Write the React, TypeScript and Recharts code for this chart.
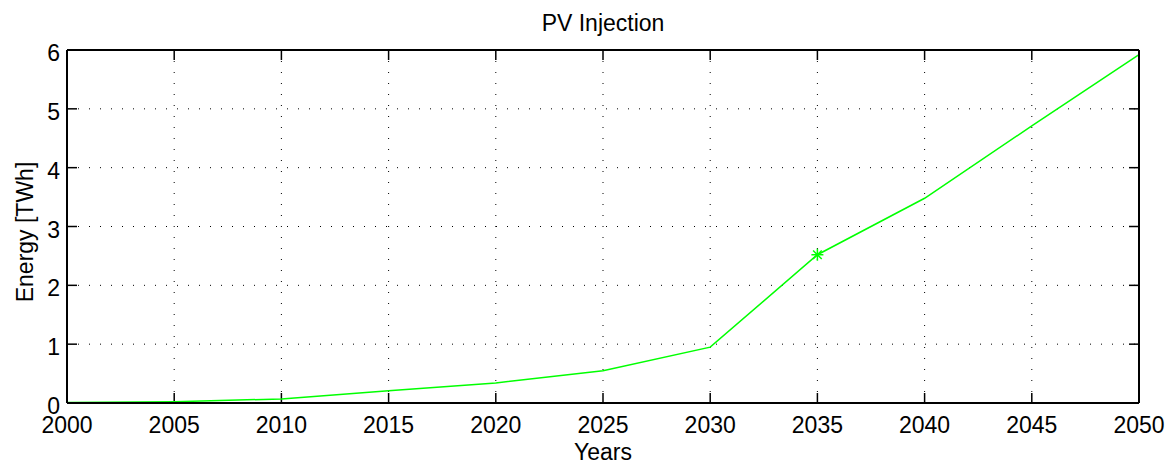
import { LineChart, Line, XAxis, YAxis, CartesianGrid, ReferenceLine } from "recharts";

const years = [2000, 2005, 2010, 2015, 2020, 2025, 2030, 2035, 2040, 2045, 2050];
const energy = [0.01, 0.02, 0.07, 0.21, 0.34, 0.55, 0.95, 2.52, 3.48, 4.71, 5.92];
const markerYears = [2035];
const xTicks = [2000, 2005, 2010, 2015, 2020, 2025, 2030, 2035, 2040, 2045, 2050];
const yTicks = [0, 1, 2, 3, 4, 5, 6];

const title = "PV Injection";
const xLabel = "Years";
const yLabel = "Energy [TWh]";

const data = years.map((year, i) => ({ year, energy: energy[i] }));

const W = 1176;
const H = 469;
const FONT = "'Liberation Sans', Arial, Helvetica, sans-serif";
const MARGIN = { top: 49, right: 36, bottom: 0, left: 0 };
const X_AXIS_H = 66;
const Y_AXIS_W = 67;
const TICK = 10;

const xMin = xTicks[0];
const xMax = xTicks[xTicks.length - 1];
const yMin = yTicks[0];
const yMax = yTicks[yTicks.length - 1];
const plotW = W - MARGIN.left - MARGIN.right - Y_AXIS_W - 1;
const plotH = H - MARGIN.top - MARGIN.bottom - X_AXIS_H - 1;
// inward tick length, in data units
const tickDX = (TICK * (xMax - xMin)) / plotW;
const tickDY = (TICK * (yMax - yMin)) / plotH;

const BottomTick = (props: any) => {
  const { x, y, payload } = props;
  return (
    <text x={x} y={Number(y) + 30} textAnchor="middle" fontSize={23} fontFamily={FONT} fill="#000" stroke="none">
      {payload.value}
    </text>
  );
};

const LeftTick = (props: any) => {
  const { x, y, payload } = props;
  return (
    <text x={Number(x) - 7} y={Number(y) + 11} textAnchor="end" fontSize={23} fontFamily={FONT} fill="#000" stroke="none">
      {payload.value}
    </text>
  );
};

const StarDot = ({ cx, cy, payload }: any) => {
  if (!markerYears.includes(payload.year)) return <g />;
  const r = 6;
  const d = r * 0.72;
  return (
    <g stroke="#00ff00" strokeWidth={1.5}>
      <line x1={cx - r} x2={cx + r} y1={cy} y2={cy} />
      <line x1={cx} x2={cx} y1={cy - r} y2={cy + r} />
      <line x1={cx - d} x2={cx + d} y1={cy - d} y2={cy + d} />
      <line x1={cx - d} x2={cx + d} y1={cy + d} y2={cy - d} />
    </g>
  );
};

const axisLine = { stroke: "#000", strokeWidth: 2 };
const TC = "#000";

export default function App() {
  return (
    <div style={{ position: "absolute", left: 0, top: 0, width: W, height: H, background: "#fff" }}>
      <LineChart width={W} height={H} data={data} margin={MARGIN}>
        <CartesianGrid stroke="#000" strokeDasharray="1 10" />
        {xTicks.slice(1, -1).map((t) => (
          <ReferenceLine
            key={`xb${t}`}
            segment={[{ x: t, y: yMin }, { x: t, y: yMin + tickDY }]}
            stroke={TC}
            strokeWidth={1.5}
            ifOverflow="visible"
          />
        ))}
        {xTicks.slice(1, -1).map((t) => (
          <ReferenceLine
            key={`xt${t}`}
            segment={[{ x: t, y: yMax - tickDY }, { x: t, y: yMax }]}
            stroke={TC}
            strokeWidth={1.5}
            ifOverflow="visible"
          />
        ))}
        {yTicks.slice(1, -1).map((t) => (
          <ReferenceLine
            key={`yl${t}`}
            segment={[{ x: xMin, y: t }, { x: xMin + tickDX, y: t }]}
            stroke={TC}
            strokeWidth={1.5}
            ifOverflow="visible"
          />
        ))}
        {yTicks.slice(1, -1).map((t) => (
          <ReferenceLine
            key={`yr${t}`}
            segment={[{ x: xMax - tickDX, y: t }, { x: xMax, y: t }]}
            stroke={TC}
            strokeWidth={1.5}
            ifOverflow="visible"
          />
        ))}
        <Line
          type="linear"
          dataKey="energy"
          stroke="#00ff00"
          strokeWidth={1.5}
          dot={<StarDot />}
          activeDot={false}
          isAnimationActive={false}
        />
        <XAxis
          dataKey="year"
          type="number"
          domain={[xMin, xMax]}
          ticks={xTicks}
          height={X_AXIS_H}
          tickSize={0}
          tickMargin={0}
          tickLine={false}
          axisLine={axisLine}
          tick={<BottomTick />}
          interval={0}
        />
        <XAxis
          xAxisId="top"
          orientation="top"
          dataKey="year"
          type="number"
          domain={[xMin, xMax]}
          ticks={xTicks}
          height={1}
          tickLine={false}
          axisLine={axisLine}
          tick={false}
          interval={0}
        />
        <YAxis
          type="number"
          domain={[yMin, yMax]}
          ticks={yTicks}
          width={Y_AXIS_W}
          tickSize={0}
          tickMargin={0}
          tickLine={false}
          axisLine={axisLine}
          tick={<LeftTick />}
          interval={0}
        />
        <YAxis
          yAxisId="right"
          orientation="right"
          type="number"
          domain={[yMin, yMax]}
          ticks={yTicks}
          width={1}
          tickLine={false}
          axisLine={axisLine}
          tick={false}
          interval={0}
        />
      </LineChart>
      <svg
        width={W}
        height={H}
        style={{ position: "absolute", left: 0, top: 0, pointerEvents: "none" }}
      >
        <text x={603} y={31} textAnchor="middle" fontSize={23} fontFamily={FONT} fill="#000">
          {title}
        </text>
        <text x={603} y={460} textAnchor="middle" fontSize={23} fontFamily={FONT} fill="#000">
          {xLabel}
        </text>
        <text
          x={0}
          y={0}
          transform="translate(33,232) rotate(-90)"
          textAnchor="middle"
          fontSize={23}
          fontFamily={FONT}
          fill="#000"
        >
          {yLabel}
        </text>
      </svg>
    </div>
  );
}
